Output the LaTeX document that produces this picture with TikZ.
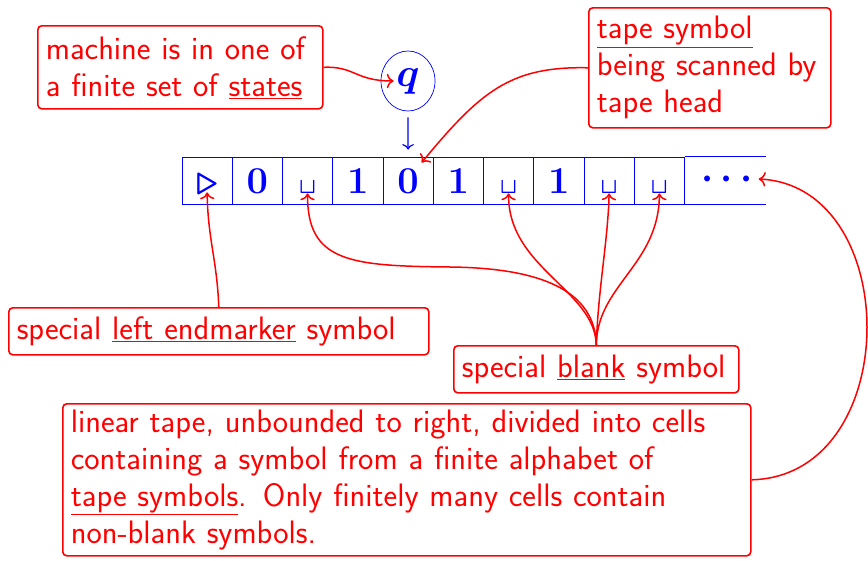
\RequirePackage{fix-cm}
\documentclass[tikz,border=0pt]{standalone}
\usetikzlibrary{arrows.meta,shapes.geometric}
\newcommand\tblank{{\fontsize{22}{22}\selectfont$\sqcup$}}
\begin{document}
\begin{tikzpicture}[x=1pt,y=-1pt,
  every node/.style={font=\sffamily\fontsize{32.5}{37}\selectfont},
  rbox/.style={draw=red, text=red, line width=1.6pt, rounded corners=4pt, anchor=north west, align=left, inner xsep=8pt, inner ysep=0pt},
  cellbox/.style={draw=blue, line width=0.8pt, minimum width=50.25pt, minimum height=47pt, inner sep=0pt, text=blue, text height=25pt, text depth=0pt, font=\fontsize{38}{40}\selectfont\boldmath},
  rarr/.style={draw=red, line width=1.5pt, -{To[scale=1.4]}},
  barr/.style={draw=blue, line width=1.2pt, -{To[scale=1.3]}},
]
\useasboundingbox (0,0) rectangle (868,560);

% boxes
\node[rbox, minimum width=285pt, minimum height=83pt, text width=269pt] (box1) at (37,25) {machine is in one of\\a finite set of \underline{states}};
\node[rbox, minimum width=242pt, minimum height=120pt, text width=226pt] (tbox) at (588,7) {\underline{tape symbol}\\being scanned by\\tape head};
\node[rbox, minimum width=420pt, minimum height=47pt, text width=404pt] (lbox) at (8,307) {special \underline{left endmarker} symbol};
\node[rbox, minimum width=285pt, minimum height=47pt, text width=269pt] (bbox) at (453,345) {special \underline{blank} symbol};
\node[rbox, minimum width=688pt, minimum height=152pt, text width=672pt] (bigbox) at (62,403) {linear tape, unbounded to right, divided into cells\\containing a symbol from a finite alphabet of\\\underline{tape symbols}. Only finitely many cells contain\\non-blank symbols.};

% state
\node[draw=blue, ellipse, line width=0.7pt, minimum width=54pt, minimum height=60pt, inner sep=0pt, text=blue, font=\fontsize{40}{40}\selectfont\boldmath] (q) at (408,81) {$q$};

% tape
\node[cellbox] (c1) at (207.1,180.5) {$\triangleright$};
\node[cellbox] (c2) at (257.4,180.5) {$\mathbf{0}$};
\node[cellbox] (c3) at (307.6,180.5) {\tblank};
\node[cellbox] (c4) at (357.9,180.5) {$\mathbf{1}$};
\node[cellbox] (c5) at (408.1,180.5) {$\mathbf{0}$};
\node[cellbox] (c6) at (458.4,180.5) {$\mathbf{1}$};
\node[cellbox] (c7) at (508.6,180.5) {\tblank};
\node[cellbox] (c8) at (558.9,180.5) {$\mathbf{1}$};
\node[cellbox] (c9) at (609.1,180.5) {\tblank};
\node[cellbox] (c10) at (659.4,180.5) {\tblank};
\draw[blue, line width=0.8pt] (c10.north east) -- ++(81,0);
\draw[blue, line width=0.8pt] (c10.south east) -- ++(81,0);
\node[text=blue, font=\fontsize{38}{40}\selectfont\boldmath, inner sep=0pt] (dots) at (727,179) {$\cdots$};

% target points
\coordinate (t1) at ([yshift=12pt]c1.south);
\coordinate (t3) at ([yshift=11pt]c3.south);
\coordinate (t5) at ([xshift=-12pt,yshift=-6pt]c5.north east);
\coordinate (t7) at ([yshift=11pt]c7.south);
\coordinate (t9) at ([yshift=11pt]c9.south);
\coordinate (t10) at ([yshift=11pt]c10.south);

% connectors
\draw[barr, shorten <=6pt, shorten >=7pt] (q.south) -- (c5.north);
\draw[rarr] (box1.east) .. controls (355,66) and (355,81) .. ([xshift=13pt]q.west);
\draw[rarr] (tbox.west) .. controls (510,66) and (480,92) .. (t5);
\draw[rarr] (lbox.north) .. controls (217,260) and (208,240) .. (t1);
\draw[rarr] (bbox.north) .. controls (595,290) and (540,268) .. (450,267) .. controls (350,266) and (307,262) .. (t3);
\draw[rarr] (bbox.north) .. controls (595,290) and (508,268) .. (t7);
\draw[rarr] (bbox.north) .. controls (598,290) and (608,240) .. (t9);
\draw[rarr] (bbox.north) .. controls (597,285) and (659,265) .. (t10);
\draw[rarr] (bigbox.east) .. controls (904,476) and (904,186) .. ([xshift=6pt]dots.east);
\end{tikzpicture}
\end{document}
